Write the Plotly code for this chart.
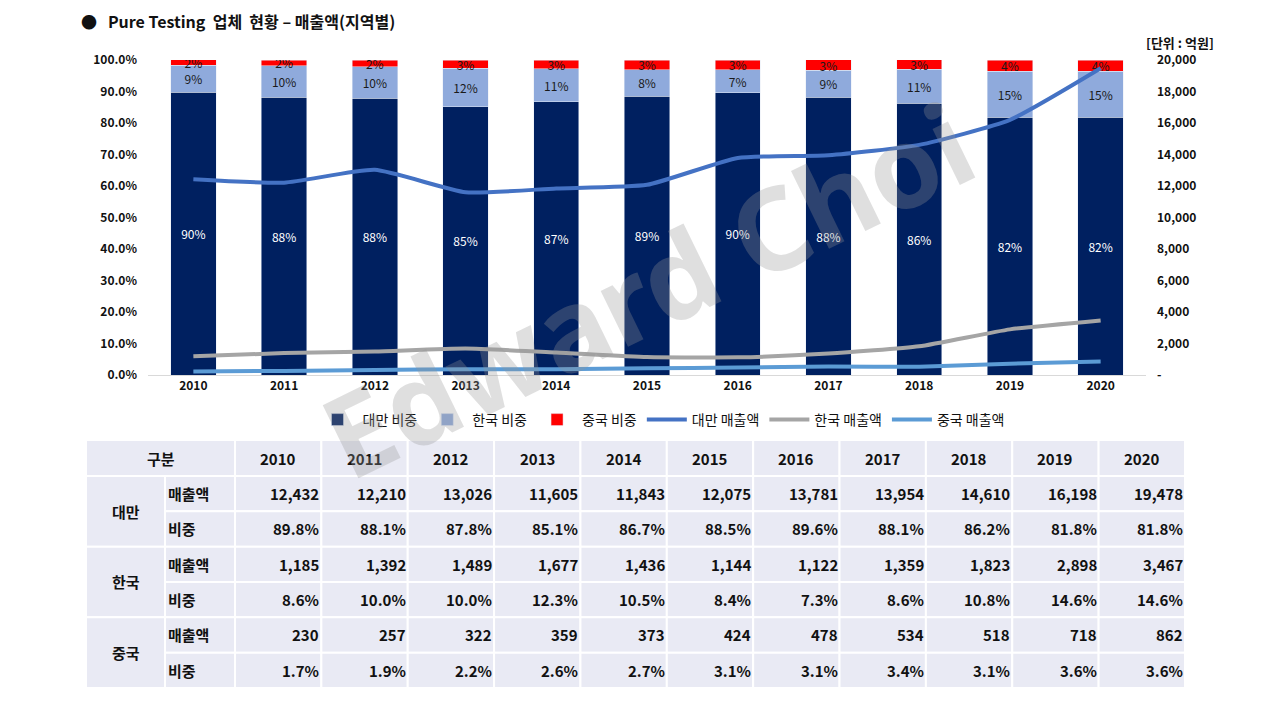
import plotly.graph_objects as go

years = ['2010', '2011', '2012', '2013', '2014', '2015', '2016', '2017', '2018', '2019', '2020']
tw_sales = [12432, 12210, 13026, 11605, 11843, 12075, 13781, 13954, 14610, 16198, 19478]
tw_share = [89.8, 88.1, 87.8, 85.1, 86.7, 88.5, 89.6, 88.1, 86.2, 81.8, 81.8]
kr_sales = [1185, 1392, 1489, 1677, 1436, 1144, 1122, 1359, 1823, 2898, 3467]
kr_share = [8.6, 10.0, 10.0, 12.3, 10.5, 8.4, 7.3, 8.6, 10.8, 14.6, 14.6]
cn_sales = [230, 257, 322, 359, 373, 424, 478, 534, 518, 718, 862]
cn_share = [1.7, 1.9, 2.2, 2.6, 2.7, 3.1, 3.1, 3.4, 3.1, 3.6, 3.6]

right_tickvals = [0, 2000, 4000, 6000, 8000, 10000, 12000, 14000, 16000, 18000, 20000]
right_ticktext = ['-', '2,000', '4,000', '6,000', '8,000', '10,000', '12,000',
                  '14,000', '16,000', '18,000', '20,000']

regions = ['대만', '한국', '중국']
row_items = ['매출액', '비중']

FONT = 'Noto Sans CJK KR'
NB = '\u00a0'

# page body has an 8px margin, so the figure is laid out 8px up/left
OFF = 8
# plot area in screen pixels
L, R, T, B = 148, 1146, 60, 375


def px_x(p):
    return (p - L) / (R - L)


def px_y(p):
    return (B - p) / (B - T)


fig = go.Figure()

bar_text = dict(textposition='inside', insidetextanchor='middle', constraintext='none',
                textangle=0, texttemplate='%{y:.0f}%')
fig.add_trace(go.Bar(x=years, y=tw_share, name='대만 비중', marker_color='#002060',
                     textfont=dict(color='white', size=12, family=FONT), **bar_text))
fig.add_trace(go.Bar(x=years, y=kr_share, name='한국 비중', marker_color='#8FAADC',
                     textfont=dict(color='#1a1a1a', size=12, family=FONT), **bar_text))
fig.add_trace(go.Bar(x=years, y=cn_share, name='중국 비중', marker_color='#FF0000',
                     textfont=dict(color='#1a1a1a', size=12, family=FONT), **bar_text))

line_style = dict(mode='lines', yaxis='y2', line_shape='spline')
fig.add_trace(go.Scatter(x=years, y=tw_sales, name='대만 매출액',
                         line=dict(color='#4472C4', width=4, smoothing=0.5), **line_style))
fig.add_trace(go.Scatter(x=years, y=kr_sales, name='한국 매출액',
                         line=dict(color='#A5A5A5', width=4, smoothing=0.5), **line_style))
fig.add_trace(go.Scatter(x=years, y=cn_sales, name='중국 매출액',
                         line=dict(color='#5B9BD5', width=4, smoothing=0.5), **line_style))

# ---- table below the chart (shapes + text)
col_w = 86.36
col_edges = [86, 165, 235] + [235 + col_w * (i + 1) for i in range(len(years))]
row_h = 35.33
row_edges = [440, 476] + [476 + row_h * (k + 1) for k in range(6)]
cell_fill = '#E9EAF4'
shapes = []
annotations = []
tfont = dict(family=FONT, size=15, color='#111111', weight='bold')


def cell(x0, x1, y0, y1, text, align='center'):
    shapes.append(dict(type='rect', xref='paper', yref='paper',
                       x0=px_x(x0), x1=px_x(x1), y0=px_y(y1), y1=px_y(y0),
                       fillcolor=cell_fill, line=dict(color='white', width=2), layer='below'))
    if align == 'right':
        ax, anchor = x1 - 1, 'right'
    elif align == 'left':
        ax, anchor = x0 + 2, 'left'
    else:
        ax, anchor = (x0 + x1) / 2, 'center'
    annotations.append(dict(text=text, xref='paper', yref='paper', x=px_x(ax),
                            y=px_y((y0 + y1) / 2), xanchor=anchor, yanchor='middle',
                            showarrow=False, font=tfont, borderpad=0))


cell(col_edges[0], col_edges[2], row_edges[0], row_edges[1], '구분')
for i, yr in enumerate(years):
    cell(col_edges[i + 2], col_edges[i + 3], row_edges[0], row_edges[1], yr)

series = [(tw_sales, tw_share), (kr_sales, kr_share), (cn_sales, cn_share)]
for g, reg in enumerate(regions):
    r0 = 1 + g * 2
    cell(col_edges[0], col_edges[1], row_edges[r0], row_edges[r0 + 2], reg)
    sales, share = series[g]
    for k, item in enumerate(row_items):
        ya, yb = row_edges[r0 + k], row_edges[r0 + k + 1]
        cell(col_edges[1], col_edges[2], ya, yb, item, align='left')
        for i in range(len(years)):
            txt = f'{sales[i]:,}' if k == 0 else f'{share[i]:.1f}%'
            cell(col_edges[i + 2], col_edges[i + 3], ya, yb, txt, align='right')

annotations.append(dict(text=f'[단위{NB}:{NB}억원]', xref='paper', yref='paper', x=px_x(1180),
                        y=px_y(43), xanchor='center', yanchor='middle', showarrow=False,
                        font=dict(family=FONT, size=13, color='#111111', weight='bold')))

# watermark
annotations.append(dict(text='Edward Choi', xref='paper', yref='paper', x=px_x(646),
                        y=px_y(288), xanchor='center', yanchor='middle', showarrow=False,
                        textangle=-26,
                        font=dict(family='Noto Sans', size=114, color='rgba(150,150,150,0.3)',
                                  weight='bold')))

# title as a plain annotation at the top-left (top edge on the figure's top)
title_text = f'●{NB}{NB}{NB}Pure{NB}Testing{NB}{NB}업체{NB}{NB}현황{NB}–{NB}매출액(지역별)'
annotations.append(dict(text=title_text, xref='paper', yref='paper', x=px_x(80),
                        y=px_y(OFF + 0.5), xanchor='left', yanchor='top', showarrow=False,
                        borderpad=0,
                        font=dict(family=FONT, size=16, color='#111111', weight='bold')))

fig.update_layout(
    width=1280, height=720,
    margin=dict(l=L - OFF, r=1280 - (R - OFF), t=T - OFF, b=720 - (B - OFF)),
    paper_bgcolor='white', plot_bgcolor='white',
    barmode='stack', bargap=0.5,
    font=dict(family=FONT, color='#111111'),
    xaxis=dict(showgrid=False, showline=True, linecolor='#D9D9D9', linewidth=1,
               ticks='', tickfont=dict(size=12, weight='bold', color='#111111')),
    yaxis=dict(range=[0, 100], dtick=10, tickformat='.1f', ticksuffix='%', showgrid=False,
               zeroline=False, tickfont=dict(size=12, weight='bold', color='#111111'),
               ticklabelstandoff=10),
    yaxis2=dict(range=[0, 20000], overlaying='y', side='right', showgrid=False, zeroline=False,
                tickvals=right_tickvals, ticktext=right_ticktext,
                tickfont=dict(size=12, weight='bold', color='#111111'), ticklabelstandoff=10),
    legend=dict(orientation='h', x=px_x(661), xanchor='center', y=px_y(420), yanchor='middle',
                font=dict(size=14, color='#111111'), traceorder='normal', itemwidth=40),
    shapes=shapes,
    annotations=annotations,
)

fig.write_html('out.html')
